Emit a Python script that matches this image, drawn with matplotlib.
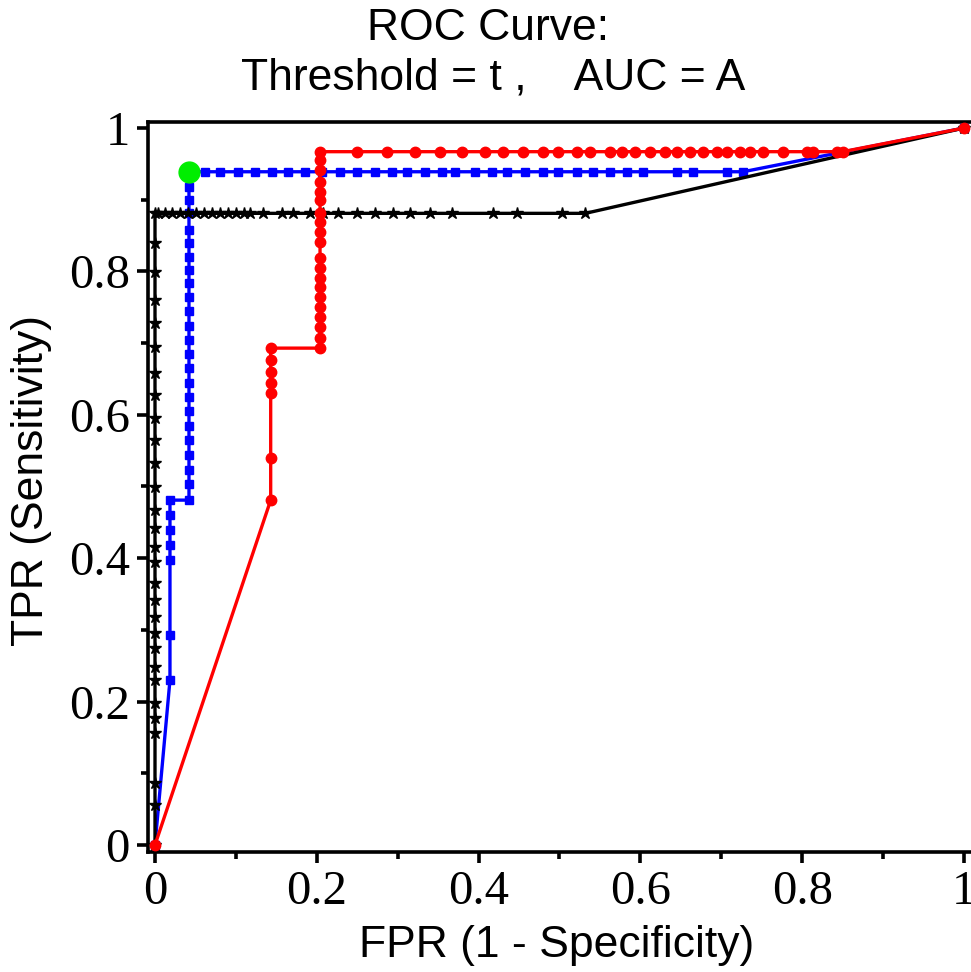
import matplotlib
matplotlib.use("Agg")
import matplotlib.pyplot as plt
from matplotlib.ticker import MultipleLocator, FuncFormatter

# ---- data ----
black_fpr = [0.0] * 29 + [0.004, 0.012, 0.021, 0.031, 0.041, 0.051, 0.061, 0.070, 0.080, 0.090,
                          0.100, 0.110, 0.117, 0.133, 0.157, 0.171, 0.192, 0.208, 0.226, 0.250,
                          0.272, 0.294, 0.315, 0.340, 0.367, 0.418, 0.447, 0.503, 0.532, 1.0]
black_tpr = [0.0, 0.056, 0.086, 0.156, 0.177, 0.198, 0.230, 0.248, 0.275, 0.296, 0.318, 0.342,
             0.365, 0.395, 0.416, 0.442, 0.467, 0.499, 0.533, 0.565, 0.596, 0.628, 0.658, 0.695,
             0.728, 0.760, 0.799, 0.840, 0.881] + [0.881] * 29 + [1.0]

blue_fpr = [0.0, 0.0185, 0.0185, 0.0185, 0.0185, 0.0185, 0.0185, 0.0185] + [0.042] * 24 + \
           [0.062, 0.080, 0.103, 0.124, 0.145, 0.164, 0.185, 0.206, 0.229, 0.250, 0.272, 0.293,
            0.311, 0.334, 0.355, 0.371, 0.396, 0.417, 0.435, 0.457, 0.480, 0.498, 0.522, 0.541,
            0.562, 0.583, 0.603, 0.645, 0.665, 0.707, 0.727, 1.0]
blue_tpr = [0.0, 0.230, 0.293, 0.397, 0.418, 0.439, 0.460, 0.481] + \
           [0.481, 0.503, 0.523, 0.544, 0.565, 0.584, 0.605, 0.625, 0.644, 0.665, 0.685, 0.704,
            0.724, 0.745, 0.764, 0.784, 0.802, 0.820, 0.840, 0.858, 0.881, 0.900, 0.918, 0.939] + \
           [0.939] * 31 + [1.0]

red_fpr = [0.0] + [0.143] * 7 + [0.204] * 20 + \
          [0.250, 0.287, 0.321, 0.352, 0.379, 0.408, 0.430, 0.455, 0.480, 0.498, 0.522, 0.538,
           0.562, 0.577, 0.593, 0.612, 0.630, 0.645, 0.661, 0.677, 0.695, 0.707, 0.723, 0.735,
           0.752, 0.776, 0.806, 0.813, 0.843, 0.850, 1.0]
red_tpr = [0.0, 0.481, 0.540, 0.630, 0.644, 0.660, 0.676, 0.693] + \
          [0.693, 0.707, 0.722, 0.736, 0.750, 0.764, 0.778, 0.791, 0.805, 0.819, 0.841, 0.855,
           0.869, 0.881, 0.900, 0.911, 0.925, 0.941, 0.955, 0.967] + [0.967] * 30 + [1.0]

opt_point = (0.042, 0.939)

title_lines = ["ROC Curve:", "Threshold = t ,    AUC = A"]
x_label = "FPR (1 - Specificity)"
y_label = "TPR (Sensitivity)"

# ---- figure ----
W, H = 971, 972
fig = plt.figure(figsize=(W / 100, H / 100), dpi=100)
ax = fig.add_axes([148 / W, 120 / H, (975 - 148) / W, (852 - 122) / H])
ax.set_xlim(-0.00865, 1.0136)
ax.set_ylim(-0.0098, 1.0084)

ax.plot(blue_fpr, blue_tpr, color="#0000ff", lw=2.4, marker="s", ms=5.5, mec="#0000ff",
        mfc="#0000ff", zorder=3, clip_on=False)
ax.plot(black_fpr, black_tpr, color="black", lw=2.4, marker="*", ms=9, mec="black",
        mfc="black", zorder=4, clip_on=False)
ax.plot(red_fpr, red_tpr, color="#ff0000", lw=2.4, marker="o", ms=7.5, mec="#ff0000",
        mfc="#ff0000", zorder=5, clip_on=False)
ax.plot([opt_point[0]], [opt_point[1]], marker="o", ms=15, color="#00ee00", zorder=6,
        clip_on=False, ls="none")

for s in ["left", "bottom", "top"]:
    ax.spines[s].set_linewidth(2.6)
ax.spines["right"].set_visible(False)

ax.xaxis.set_major_locator(MultipleLocator(0.2))
ax.xaxis.set_minor_locator(MultipleLocator(0.1))
ax.yaxis.set_major_locator(MultipleLocator(0.2))
ax.yaxis.set_minor_locator(MultipleLocator(0.1))
fmt = FuncFormatter(lambda v, p: "0" if abs(v) < 1e-9 else ("1" if abs(v - 1) < 1e-9 else f"{v:.1f}"))
ax.xaxis.set_major_formatter(fmt)
ax.yaxis.set_major_formatter(fmt)
ax.tick_params(which="major", direction="out", length=8, width=2.6, pad=5)
ax.tick_params(which="minor", direction="out", length=5, width=2.6)
ax.tick_params(top=False, right=False, which="both")
for lab in ax.get_xticklabels() + ax.get_yticklabels():
    lab.set_fontfamily("Liberation Serif")
    lab.set_fontsize(35)

sans = "Liberation Sans"
fig.text(488 / W, 1 - 29 / H, title_lines[0], ha="center", va="center", fontsize=32, family=sans)
fig.text(493 / W, 1 - 78 / H, title_lines[1], ha="center", va="center", fontsize=32, family=sans)
fig.text(557 / W, 1 - 945 / H, x_label, ha="center", va="center", fontsize=32, family=sans)
fig.text(32 / W, 1 - 480 / H, y_label, ha="center", va="center", fontsize=32, family=sans,
         rotation=90)

fig.savefig("out.png", dpi=100)
